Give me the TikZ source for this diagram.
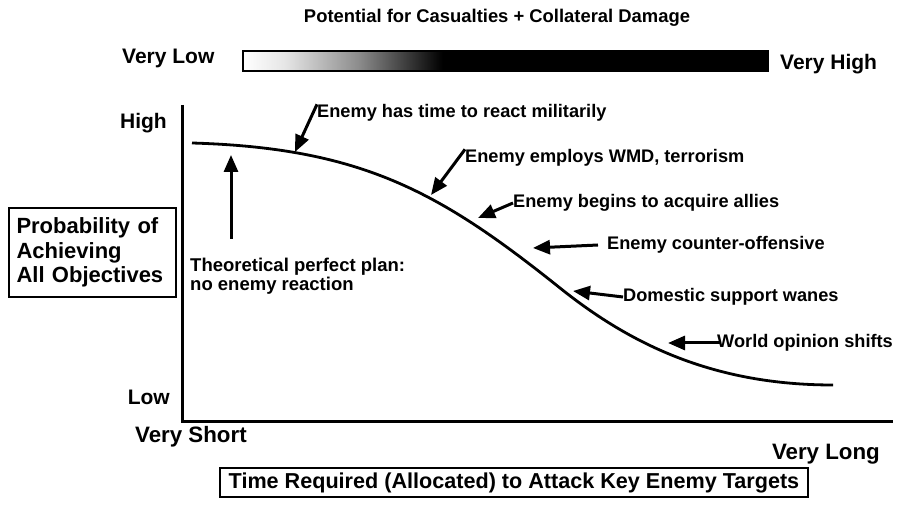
\documentclass[tikz,border=0pt]{standalone}
\usepackage{fontspec}
\setmainfont{Liberation Sans}
\usetikzlibrary{arrows.meta}

\pgfdeclarehorizontalshading{casualty}{100bp}{color(0bp)=(white); color(25bp)=(white); color(29bp)=(black!10); color(36bp)=(black!45); color(44bp)=(black); color(100bp)=(black)}

\begin{document}
\begin{tikzpicture}[x=1pt, y=-1pt,
    lbl/.style={font=\bfseries\fontsize{18.2}{20}\selectfont, inner sep=0pt, anchor=west},
    big/.style={font=\bfseries\fontsize{21}{24}\selectfont, inner sep=0pt},
    boxed/.style={draw, line width=2.4pt},
    arr/.style={line width=3pt, -{Triangle[length=17pt,width=14pt]}},
    axis/.style={line width=3pt}]
      \useasboundingbox (0,0) rectangle (897,510);
      % top scale
      \node[font=\bfseries\fontsize{18.4}{20}\selectfont] (title) at (497,18) {Potential for Casualties + Collateral Damage};
      \node[big, anchor=west] (vlow) at (122,58) {Very Low};
      \node[big, anchor=west] (vhigh) at (780,64) {Very High};
      \shade[shading=casualty] (243,51) rectangle (768,71);
      \draw[line width=1.2pt] (243,51) rectangle (768,71);
      % axes
      \coordinate (top) at (182,105);
      \coordinate (origin) at (182,422);
      \coordinate (right) at (893,422);
      \draw[axis] (top) -- (origin) -- (right);
      \node[big, anchor=east] (high) at (167,123) {High};
      \node[big, anchor=east] (low) at (170,397) {Low};
      \node[big, anchor=west, font=\bfseries\fontsize{22.3}{24}\selectfont] (vshort) at (135,437) {Very Short};
      \node[big, anchor=east, font=\bfseries\fontsize{22.3}{24}\selectfont] (vlong) at (880,454) {Very Long};
      \node[boxed, align=left, font=\bfseries\fontsize{22}{24.5}\selectfont, minimum width=167pt, minimum height=89pt, text width=152pt] (prob) at (92.5,252.5) {Probability of\\Achieving\\All Objectives};
      \node[boxed, font=\bfseries\fontsize{21.6}{24}\selectfont, minimum width=588pt, minimum height=29pt, inner sep=0pt] (time) at (514,482.5) {Time Required (Allocated) to Attack Key Enemy Targets};
      % curve
      \draw[line width=2.8pt] (192,143) .. controls (362,148) and (440,192) .. (560,288) .. controls (630,344) and (713,385) .. (833,385);
      % events
      \node[lbl] (l1) at (317,113) {Enemy has time to react militarily};
      \node[lbl] (l2) at (465,158) {Enemy employs WMD, terrorism};
      \node[lbl] (l3) at (513,203) {Enemy begins to acquire allies};
      \node[lbl] (l4) at (607,245) {Enemy counter-offensive};
      \node[lbl] (l5) at (623,297) {Domestic support wanes};
      \node[lbl] (l6) at (717,343) {World opinion shifts};
      \node[lbl, font=\bfseries\fontsize{18.5}{19}\selectfont, align=left] (theo) at (190,276) {Theoretical perfect plan:\\no enemy reaction};
      \coordinate (t1) at (295,152);
      \coordinate (t2) at (431,195);
      \coordinate (t3) at (478,218);
      \coordinate (t4) at (533,248);
      \coordinate (t5) at (573,291);
      \coordinate (t6) at (668,343);
      \coordinate (ideal) at (231,155);
      \draw[arr] (l1.north west) -- (t1);
      \draw[arr] (l2.north west) -- (t2);
      \draw[arr] (l3.west) -- (t3);
      \draw[arr] ([xshift=-9pt]l4.west) -- (t4);
      \draw[arr] (l5.west) -- (t5);
      \draw[arr] ([xshift=3pt]l6.west) -- (t6);
      \draw[arr] ([yshift=19pt]ideal |- theo.north) -- (ideal);
    \end{tikzpicture}
\end{document}
